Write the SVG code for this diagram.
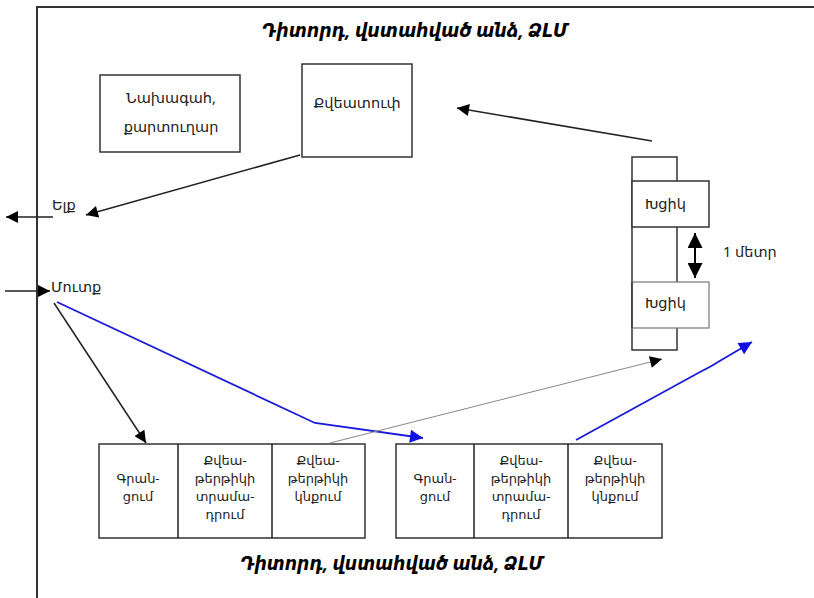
<svg xmlns="http://www.w3.org/2000/svg" width="814" height="598" viewBox="0 0 814 598">
<style>
.t{font-family:"Noto Sans","DejaVu Sans",sans-serif;font-size:13px;fill:#222;text-anchor:middle}
.m{font-size:14.5px}
.l{font-family:"Noto Sans","DejaVu Sans",sans-serif;font-size:14.5px;fill:#222}
.h{font-family:"Noto Sans","DejaVu Sans",sans-serif;font-size:20px;font-weight:bold;font-style:italic;fill:#000;text-anchor:middle}
.b{fill:#fff;stroke:#333;stroke-width:1.5}
.c{fill:none;stroke:#222;stroke-width:1.5}
.blue{fill:none;stroke:#1a1ad8;stroke-width:1.8}
</style>
<defs>
<marker id="ak" viewBox="0 0 10 10" refX="10" refY="5" markerWidth="13" markerHeight="12" markerUnits="userSpaceOnUse" orient="auto-start-reverse"><path d="M0,0L10,5L0,10z" fill="#000"/></marker>
<marker id="ad" viewBox="0 0 10 10" refX="10" refY="5" markerWidth="15" markerHeight="15" markerUnits="userSpaceOnUse" orient="auto-start-reverse"><path d="M0,0L10,5L0,10z" fill="#000"/></marker>
<marker id="ab" viewBox="0 0 10 10" refX="10" refY="5" markerWidth="15" markerHeight="13" markerUnits="userSpaceOnUse" orient="auto"><path d="M0,0L10,5L0,10z" fill="#1010e0"/></marker>
</defs>
<rect width="814" height="598" fill="#fff"/>
<g id="frame">
<path d="M37,598V7H814" fill="none" stroke="#333" stroke-width="2"/>
</g>
<g id="title-top"><text class="h" x="415" y="37" textLength="306" lengthAdjust="spacingAndGlyphs">Դիտորդ, վստահված անձ, ՁԼՄ</text></g>
<g id="title-bottom"><text class="h" x="392" y="570" textLength="303" lengthAdjust="spacingAndGlyphs">Դիտորդ, վստահված անձ, ՁԼՄ</text></g>
<g id="chair">
<rect class="b" x="100" y="75" width="140" height="77"/>
<text class="t m" x="171" y="103">Նախագահ,</text>
<text class="t m" x="171" y="132">քարտուղար</text>
</g>
<g id="ballot-box">
<rect class="b" x="302" y="64" width="110" height="93"/>
<text class="t m" x="357" y="108">Քվեատուփ</text>
</g>
<g id="booths">
<rect class="b" x="632" y="157" width="45" height="193"/>
<rect class="b" x="632" y="181" width="77" height="46"/>
<text class="l" x="645" y="209" font-size="13.5">Խցիկ</text>
<rect x="632" y="282" width="77" height="46" fill="#fff" stroke="#777" stroke-width="1.2"/>
<path d="M632,282V328" stroke="#333" stroke-width="1.5"/>
<text class="l" x="645" y="308" font-size="13.5">Խցիկ</text>
<text class="l" x="723" y="257" font-size="13">1 մետր</text>
</g>
<g id="exit-label"><text class="l" x="52" y="210">Ելք</text></g>
<g id="entry-label"><text class="l" x="51" y="292">Մուտք</text></g>
<g id="group-left">
<rect class="b" x="99" y="444" width="266" height="94"/>
<path d="M178,444V538M272,444V538" class="c"/>
<text class="t" x="138" y="483">Գրան-</text>
<text class="t" x="138" y="501">ցում</text>
<text class="t" x="225" y="465">Քվեա-</text>
<text class="t" x="225" y="483">թերթիկի</text>
<text class="t" x="225" y="501">տրամա-</text>
<text class="t" x="225" y="519">դրում</text>
<text class="t" x="318" y="465">Քվեա-</text>
<text class="t" x="318" y="483">թերթիկի</text>
<text class="t" x="318" y="501">կնքում</text>
</g>
<g id="group-right">
<rect class="b" x="396" y="444" width="266" height="94"/>
<path d="M474,444V538M568,444V538" class="c"/>
<text class="t" x="435" y="483">Գրան-</text>
<text class="t" x="435" y="501">ցում</text>
<text class="t" x="521" y="465">Քվեա-</text>
<text class="t" x="521" y="483">թերթիկի</text>
<text class="t" x="521" y="501">տրամա-</text>
<text class="t" x="521" y="519">դրում</text>
<text class="t" x="615" y="465">Քվեա-</text>
<text class="t" x="615" y="483">թերթիկի</text>
<text class="t" x="615" y="501">կնքում</text>
</g>
<g id="connectors">
<path class="c" d="M652,141L457,108" marker-end="url(#ak)"/>
<path class="c" d="M300,155L86,215" marker-end="url(#ak)"/>
<path class="c" d="M53,217H6" marker-end="url(#ak)"/>
<path class="c" d="M5,291H50" marker-end="url(#ak)"/>
<path class="c" d="M54,303L146,443" marker-end="url(#ak)"/>
<path class="blue" d="M57,302L315,423L423,438" marker-end="url(#ab)"/>
<path d="M330,443L662,359" fill="none" stroke="#888" stroke-width="1" marker-end="url(#ak)"/>
<path class="blue" d="M576,440L700,372Q712,366 718,362L752,342" marker-end="url(#ab)"/>
<path d="M695,233V278" fill="none" stroke="#000" stroke-width="2" marker-start="url(#ad)" marker-end="url(#ad)"/>
</g>
</svg>
